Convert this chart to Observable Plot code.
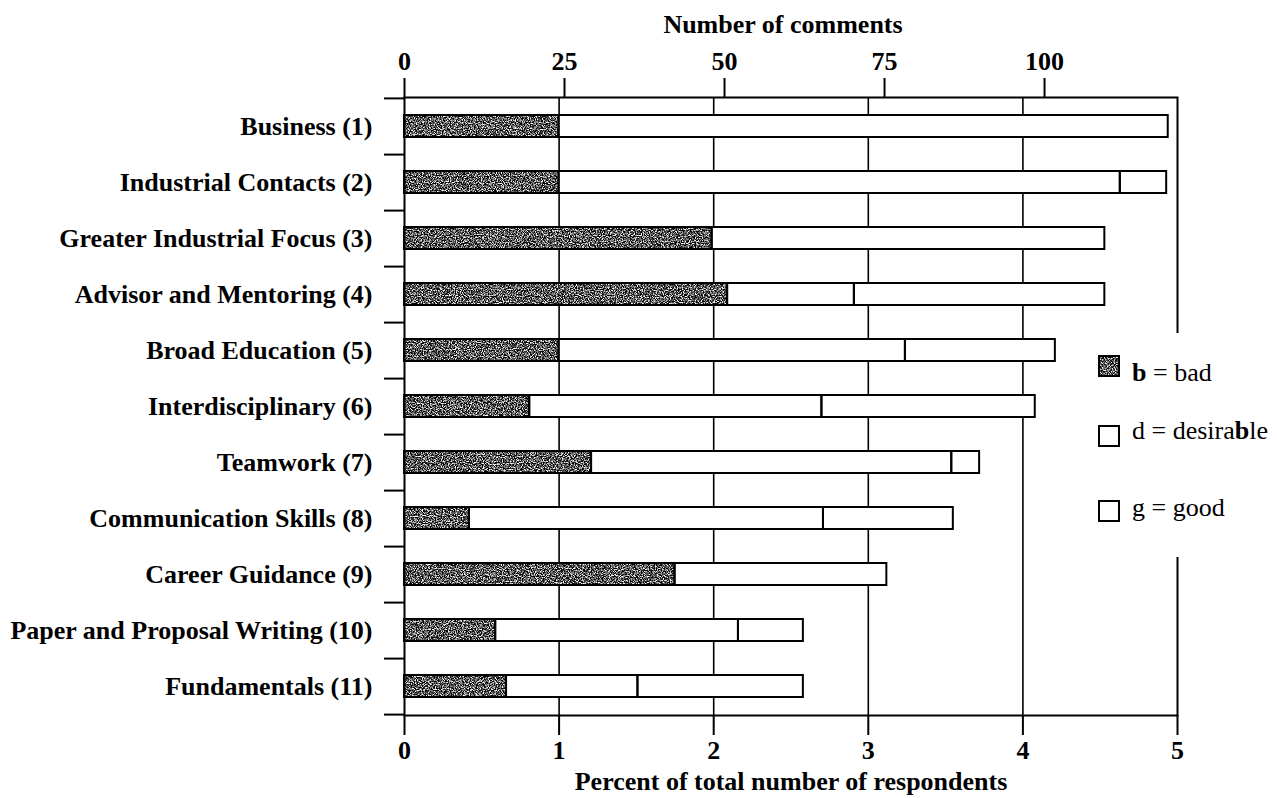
<!DOCTYPE html>
<html>
<head>
<meta charset="utf-8">
<script src="https://cdn.jsdelivr.net/npm/d3@7"></script>
<script src="https://cdn.jsdelivr.net/npm/@observablehq/plot@0.6"></script>
<style>
  html, body { margin: 0; padding: 0; background: #fff; }
  #wrap { position: relative; width: 1277px; height: 798px; }
  #legend { position: absolute; left: 1088px; top: 333px; width: 189px; height: 224px; background: #fff;
            font-family: "Liberation Serif", serif; font-size: 26px; color: #000; }
  #legend .sq { position: absolute; left: 10px; }
  #legend .lab { position: absolute; left: 44px; line-height: 26px; white-space: nowrap; }
</style>
</head>
<body>
<div id="wrap">
  <div id="chart"></div>
  <div id="legend"></div>
</div>
<script>
// ---- data ----
const categories = [
  "Business (1)",
  "Industrial Contacts (2)",
  "Greater Industrial Focus (3)",
  "Advisor and Mentoring (4)",
  "Broad Education (5)",
  "Interdisciplinary (6)",
  "Teamwork (7)",
  "Communication Skills (8)",
  "Career Guidance (9)",
  "Paper and Proposal Writing (10)",
  "Fundamentals (11)"
];
const bad       = [1.00, 1.00, 1.99, 2.09, 1.00, 0.81, 1.21, 0.42, 1.75, 0.59, 0.66];
const desirable = [3.94, 3.63, 2.54, 0.82, 2.24, 1.89, 2.33, 2.29, 1.37, 1.57, 0.85];
const good      = [0.00, 0.30, 0.00, 1.62, 0.97, 1.38, 0.18, 0.84, 0.00, 0.42, 1.07];
const types = ["bad", "desirable", "good"];
const percentTicks = [0, 1, 2, 3, 4, 5];
const gridTicks = [1, 2, 3, 4];
const commentTicks = [0, 25, 50, 75, 100];
const percentPerComment = 0.0414;
const legendLabels = ["<b>b</b> = bad", "d = desira<b>b</b>le", "g = good"];

// ---- build table ----
const series = {bad, desirable, good};
const rows = categories.flatMap((c, i) =>
  types.map(t => ({category: c, type: t, value: series[t][i]}))
).filter(d => d.value > 0);

const W = 1277, H = 798, mL = 404, mR = 100, mT = 97, mB = 83;
const step = (H - mT - mB) / categories.length;

const chart = Plot.plot({
  width: W, height: H,
  marginLeft: mL, marginRight: mR, marginTop: mT, marginBottom: mB,
  style: {fontFamily: "'Liberation Serif', serif", fontSize: "26px", fontWeight: "bold", color: "#000", background: "#fff", overflow: "visible"},
  x: {domain: [0, 5]},
  y: {domain: categories, paddingInner: 0.6, paddingOuter: 0.3, align: 0.5},
  marks: [
    Plot.ruleX(gridTicks, {stroke: "#000", strokeWidth: 1.6}),
    Plot.barX(rows, Plot.stackX({x: "value", y: "category", fill: "#fff"})),
    Plot.barX(rows.filter(d => d.type === "bad"), Plot.stackX({x: "value", y: "category", fill: "#000"})),
    Plot.barX(rows, Plot.stackX({x: "value", y: "category", fill: "none", stroke: "#000", strokeWidth: 2})),
    Plot.frame({stroke: "#000", strokeWidth: 2}),
    Plot.ruleY(categories, {y: d => d, x1: 0, x2: 0, insetLeft: -20, dy: step / 2, stroke: "#000", strokeWidth: 2}),
    Plot.ruleY(categories.slice(0, 1), {y: d => d, x1: 0, x2: 0, insetLeft: -20, dy: -step / 2, stroke: "#000", strokeWidth: 2}),
    Plot.axisY({tickSize: 0, tickPadding: 32, label: null}),
    Plot.axisX(percentTicks, {anchor: "bottom", tickSize: 20, tickPadding: 5, label: null, strokeWidth: 2,
      tickFormat: d => String(d)}),
    Plot.axisX(commentTicks.map(c => c * percentPerComment), {anchor: "top", tickSize: 20, tickPadding: 8, label: null, strokeWidth: 2,
      tickFormat: d => String(Math.round(d / percentPerComment))}),
    Plot.text(["Number of comments"], {text: d => d, frameAnchor: "top", dy: -73, dx: -8, lineAnchor: "middle"}),
    Plot.text(["Percent of total number of respondents"], {text: d => d, frameAnchor: "bottom", dy: 66, lineAnchor: "middle"})
  ]
});

const grainDef = (id) => `<filter id="${id}" color-interpolation-filters="sRGB">
  <feTurbulence type="fractalNoise" baseFrequency="0.85" numOctaves="2" seed="7" result="n"/>
  <feColorMatrix in="n" type="matrix" values="0 0 0 0 0  0 0 0 0 0  0 0 0 0 0  3.2 0 0 0 -0.95" result="s"/>
  <feComposite in="s" in2="SourceAlpha" operator="in"/>
</filter>`;

d3.select(chart).append("defs").html(grainDef("grain"));
// the second bar layer holds the "bad" segments: give it the speckled texture
d3.select(chart).selectAll('g[aria-label="bar"]').filter((d, i) => i === 1).attr("filter", "url(#grain)");
document.getElementById("chart").appendChild(chart);

// ---- legend ----
const legend = d3.select("#legend");
const sqTops = [22, 92, 167];
const labTops = [27, 85, 162];
types.forEach((t, i) => {
  const s = legend.append("svg").attr("class", "sq").style("top", sqTops[i] + "px")
    .attr("width", 22).attr("height", 22);
  if (i === 0) s.append("defs").html(grainDef("grainL"));
  s.append("rect").attr("x", 1).attr("y", 1).attr("width", 20).attr("height", 20).attr("fill", "#fff");
  if (t === "bad") s.append("rect").attr("x", 1).attr("y", 1).attr("width", 20).attr("height", 20)
    .attr("fill", "#000").attr("filter", "url(#grainL)");
  s.append("rect").attr("x", 1).attr("y", 1).attr("width", 20).attr("height", 20)
    .attr("fill", "none").attr("stroke", "#000").attr("stroke-width", 2);
  legend.append("div").attr("class", "lab").style("top", labTops[i] + "px").html(legendLabels[i]);
});
</script>
</body>
</html>
